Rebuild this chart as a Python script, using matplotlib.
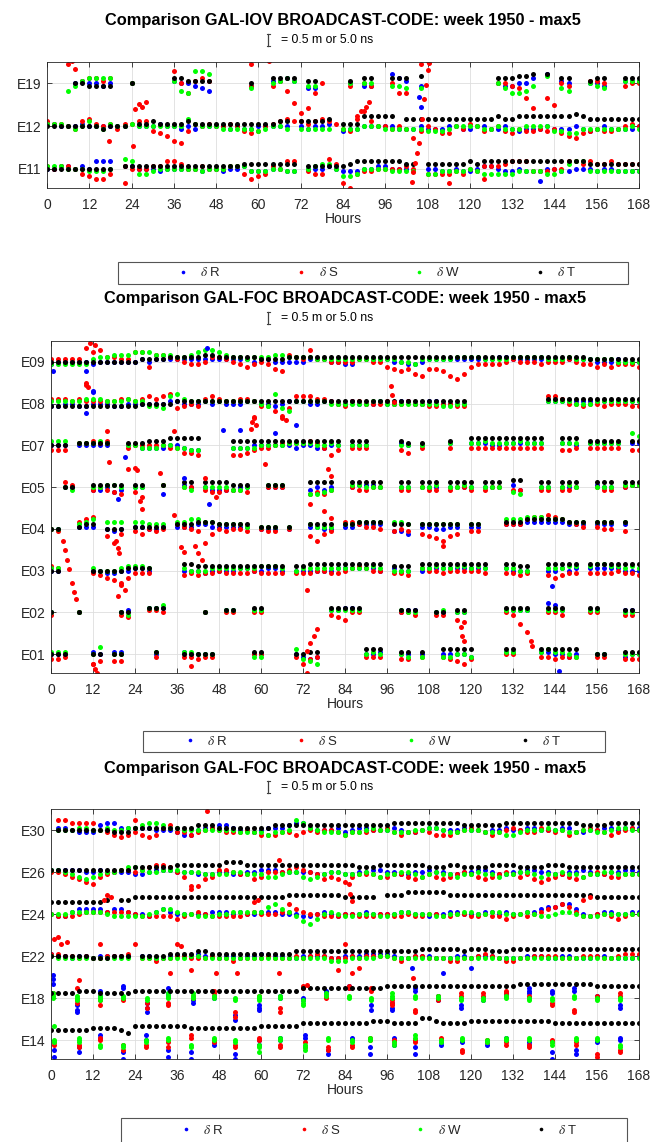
import numpy as np
import matplotlib.pyplot as plt
from matplotlib.lines import Line2D
from matplotlib.patches import Rectangle

plt.rcParams['font.family'] = ['Liberation Sans', 'DejaVu Sans']
plt.rcParams['mathtext.fontset'] = 'stix'

_ = np.nan
hours = np.arange(0, 169, 2)   # one sample every 2 h
DM_PER_ROW = 17.5              # values below are in dm (0.1 m), rows are 1.75 m apart

# ---------------- GAL-IOV ----------------
E19_T = [_, _, _, _, 0, 0, -1, -1, -1, -1, _, _,
         0, _, _, _, _, _, 2, 2, 1, 1, 1, 1,
         _, _, _, _, _, 0, _, _, 2, 2, 2, 2,
         _, 1, 1, _, _, _, _, 1, _, 2, 2, _,
         _, 2, 2, 2, _, 3, _, _, _, _, _, _,
         _, _, _, _, 2, 2, 2, 3, 3, 4, _, 4,
         _, 2, 2, _, _, 1, 2, 2, _, _, 2, 2,
         2]
E19_R = [_, _, _, _, 0, 1, 0, 0, -1, 0, _, _,
         0, _, _, _, _, _, 1, 0, 0, -1, -2, -3,
         _, _, _, _, _, -1, _, _, 1, 1, 2, 1,
         _, -2, -2, _, _, _, _, 0, _, -1, -1, _,
         _, 4, 2, 1, _, -1, _, _, _, _, _, _,
         _, _, _, _, 0, -1, -1, 0, 0, 2, _, 4,
         _, 1, 0, _, _, 0, 0, -1, _, _, 1, 1,
         1]
E19_S = [_, _, _, 8, 6, 1, 2, 2, 1, 2, _, _,
         0, _, _, _, _, _, 5, 0, -4, 1, 2, 1,
         _, _, _, _, _, -1, _, _, -1, 1, -3, -8,
         -12, -10, -4, 0, _, _, _, -1, _, 0, -1, _,
         _, 0, -4, -4, _, 8, 9, _, _, _, _, _,
         _, _, _, _, 0, 0, -1, -2, -6, -10, _, -6,
         -9, 0, -1, _, _, 1, 1, 0, _, _, -1, 0,
         0]
E19_W = [_, _, _, -3, -1, 1, 2, 2, 2, 2, _, _,
         0, _, _, _, _, _, 1, -3, -4, 5, 5, 4,
         _, _, _, _, _, -2, _, _, 0, 1, 2, 1,
         _, -1, -1, _, _, _, _, 0, _, 0, 0, _,
         _, -1, -1, -2, _, -2, _, _, _, _, _, _,
         _, _, _, _, 0, -2, -4, -4, -3, -1, _, 3,
         _, -2, -3, _, _, 0, -1, -2, _, _, 1, 1,
         1]

E12_T = [0, 0, 0, 0, 0, 0, 0, 0, -1, 0, 0, 0,
         _, 1, 1, 2, 1, 1, 1, 1, 2, 1, 1, 1,
         1, 1, 1, 1, 1, 1, 1, 1, 1, 2, 2, _,
         2, 2, 2, 2, 3, _, 1, 1, 1, 4, 4, 4,
         4, 4, _, 3, 3, 3, 3, 3, 3, 3, 3, 3,
         3, 3, 3, 3, 4, 3, 3, 4, 4, 4, 4, 4,
         4, 4, 4, 5, 4, 3, 3, 3, 3, 3, 3, 3,
         3]
E12_R = [1, 1, 0, 0, 0, 1, 0, 0, 0, 0, 0, 0,
         _, 0, 0, 0, 1, 0, 0, -1, 0, -1, 0, 0,
         0, 0, -1, 0, -1, -1, 0, 0, 0, 0, 0, _,
         0, -1, 0, 0, 1, _, -2, -1, -1, 0, 0, 0,
         0, 0, -1, -1, -1, 0, -1, -1, -1, 0, 0, -1,
         -1, 0, 0, -1, -1, 0, -1, -2, -1, -1, -1, 0,
         -1, -1, -1, 0, -1, -2, -1, 0, -1, -1, -1, -1,
         0]
E12_S = [2, 1, 1, 0, -1, 2, 3, 1, 0, 1, -1, 1,
         1, 2, 2, -2, -3, -4, -6, -7, -2, 1, 0, 1,
         0, 0, 1, 0, -2, -3, -2, 0, 1, 2, 3, 2,
         2, 1, 2, 3, 2, 1, -1, -2, 3, 6, 2, 0,
         0, -1, 0, -1, -5, -2, 0, -1, -3, -3, 0, -1,
         1, 0, -2, -1, 0, -2, -3, -1, -2, -2, -1, -2,
         -1, -3, -4, -5, -3, -2, -1, -2, -2, -1, 0, 1,
         0]
E12_W = [1, 1, 1, 0, -1, 0, 2, 0, -1, 1, 0, 0,
         1, 0, 0, 0, 0, 0, 0, 0, 3, 1, 0, 0,
         0, -1, -1, -1, -1, -1, -2, -1, 0, 0, -1, _,
         -1, -1, -1, -1, -1, _, -1, -1, -1, 0, 0, 0,
         -1, -1, -1, -1, -1, -1, -2, -2, -2, -1, 0, 0,
         0, 0, -1, -1, 0, -1, -1, -1, 0, 0, 0, 0,
         -2, -2, -3, -3, -1, -1, -1, -1, -1, -1, -1, 0,
         -1]

E11_T = [0, 0, 0, 0, 0, 0, 0, 0, 0, 0, _, 1,
         1, 1, 1, 1, 1, 1, 1, 1, 1, 1, 1, 1,
         1, 1, 1, 1, 2, 2, 2, 2, 2, 2, 2, 2,
         _, 1, 1, 1, 1, 1, 1, 2, 3, 3, 3, 3,
         3, 3, 3, 2, 2, _, 2, 2, 2, 2, 2, 2,
         3, 2, 3, 3, 3, 3, 3, 3, 3, 3, 3, 3,
         3, 3, 3, 3, 3, 2, 2, 2, 2, 2, 2, 2,
         2]
E11_R = [0, 0, 1, 1, 0, 1, 0, 3, 3, 3, _, 1,
         1, 0, 0, 0, -1, 0, 0, 0, 0, 0, -1, 0,
         0, -1, 0, 0, 1, -1, -1, -1, 0, 0, -1, -1,
         _, 0, 0, 0, 1, 0, -1, -1, -1, 0, 0, 1,
         1, 0, 0, 0, -1, _, 0, 0, -1, -1, 0, -1,
         -1, 0, 1, 1, 0, -1, -1, 0, -1, -1, -1, 0,
         0, -1, -1, 0, 0, 0, -1, 0, 0, -1, -1, -1,
         -1]
E11_S = [1, 0, 1, 1, 0, -2, -3, -4, -4, -2, _, 1,
         0, 0, 0, 1, 1, 3, 3, 2, 0, 0, 1, 0,
         0, 0, 1, 1, -2, -4, -3, -2, 1, 0, 3, 3,
         _, -1, -2, -2, 4, 2, -6, -8, -2, -1, -1, 0,
         0, 0, 0, 1, 0, _, -2, -2, -2, -2, -1, -2,
         0, -1, 1, 1, 1, 2, 3, 3, 3, -1, -1, -1,
         0, 0, 3, 3, 2, 3, 2, 2, 3, 2, 2, 2,
         2]
E11_W = [1, 1, 1, 0, 0, 0, -1, -1, -1, 0, _, 4,
         3, -2, -2, -1, 0, 0, 0, 0, 0, 0, -1, 0,
         0, 0, 1, 1, 1, -1, -1, -1, 0, 0, -1, -1,
         _, 0, 1, 2, 2, 0, -3, -3, -2, 0, 0, 0,
         0, -1, -1, -1, -1, _, -2, -2, -1, -1, -1, -1,
         0, -1, -2, -2, -2, -2, -2, -1, -1, -1, -1, -2,
         -2, -1, 2, 3, 3, -1, -1, -1, -1, -1, -1, -1,
         -1]

# isolated points: (satellite, component, hour, dm)
iov_extra = [("E19", "S", 7, 9), ("E19", "S", 58, 8), ("E19", "S", 63, 9),
             ("E12", "S", 25, 7), ("E12", "S", 26, 9), ("E12", "S", 27, 8), ("E12", "S", 28, 10),
             ("E12", "S", 24.5, -8), ("E12", "S", 17.5, -6),
             ("E12", "S", 88, 4), ("E12", "S", 89, 6), ("E12", "S", 90.5, 8), ("E12", "S", 91.5, 10),
             ("E12", "S", 103.5, -23), ("E12", "S", 104, -19), ("E12", "S", 104.5, -15),
             ("E12", "S", 105, -11), ("E12", "S", 105.5, -7), ("E12", "S", 106.5, 3),
             ("E12", "S", 107, 11), ("E12", "S", 107.5, 17), ("E12", "S", 108, 23), ("E12", "S", 108.3, 26),
             ("E12", "R", 106, 8), ("E12", "R", 105.5, 12),
             ("E11", "S", 22, -6), ("E11", "S", 114, -6), ("E11", "S", 124, -4), ("E11", "R", 140, -5)]

# ---------------- GAL-FOC (1) ----------------
E09_T = [0, 0, 0, 0, 0, 0, 0, 0, 0, 0, 0, 0,
         0, 1, 1, 1, 1, 2, 2, 2, 2, 2, 3, 3,
         2, 2, 2, 2, 2, 2, 1, 1, 1, 1, 2, 2,
         2, 2, 2, 2, 2, 2, 2, 2, 2, 2, 2, 2,
         2, 2, 2, 2, 2, 2, 2, 2, 2, 2, 2, 2,
         2, 2, 2, 2, 2, 2, 2, 2, 2, 2, 2, 2,
         2, 2, 2, 2, 2, 1, 1, 1, 1, 1, 1, 1,
         1]
E09_R = [-1, 0, 0, 0, 0, 0, -1, 0, 0, 0, 0, 0,
         0, 1, 0, 1, 1, 1, 1, 1, 1, 1, 1, 1,
         1, 1, 1, 1, 1, 0, 1, 1, 0, 0, 0, 0,
         0, 1, 1, 1, 0, 0, -1, -1, 1, 1, 1, 1,
         1, 0, 0, -1, -1, 0, 1, 1, 1, 1, 1, 1,
         1, 1, 1, 1, 2, 2, 1, 1, 1, 1, 1, 1,
         1, 1, 1, 1, 1, 1, 0, 0, 0, 1, 0, 0,
         0]
E09_S = [1, 1, 1, 1, 1, 6, 4, 5, 2, 2, 1, 1,
         4, 4, -2, 3, 3, 2, 1, 0, -1, -1, 0, 2,
         2, 1, 0, -1, -2, -1, 0, -1, -3, -4, 3, 2,
         1, 5, 1, 1, 0, 0, 0, 0, 1, 1, 0, 0,
         -2, -3, -4, -3, -5, -6, -3, -3, -4, -6, -7, -5,
         -2, -1, -1, -1, -1, 0, 1, 0, 0, 0, -1, 0,
         0, 0, 1, 0, -1, -1, -2, -1, -2, -1, -1, -1,
         -2]
E09_W = [-1, -1, -1, -1, -1, -1, 1, 2, 2, 3, 3, 3,
         4, 4, 4, 3, 3, 3, 2, 2, 3, 4, 5, 5,
         4, 3, 2, 2, 1, 2, 2, 2, 3, 3, 2, 2,
         2, 2, 1, 1, 1, 1, 1, 1, 1, 1, 1, 1,
         1, 1, 0, 0, -1, 1, 1, 1, 1, 1, 2, 2,
         2, 2, 1, 1, 1, 1, 2, 2, 2, 2, 2, 1,
         1, 1, 2, 1, 1, 1, 1, 1, 1, 0, 0, 0,
         0]

E08_T = [-1, -1, -1, -1, -1, -1, -1, -1, -1, -1, -1, -1,
         -1, 0, 0, 0, 0, 0, 1, 1, 1, 1, 1, 1,
         1, 1, 1, 1, 1, 1, 1, 1, 1, 1, 1, 1,
         1, 1, 1, 1, 1, 1, 1, 1, 1, 1, 1, 1,
         1, 1, 1, 1, 1, 1, 1, 1, 1, 1, 1, 1,
         _, _, _, _, _, _, _, _, _, _, _, 2,
         2, 2, 2, 2, 2, 2, 2, 2, 2, 2, 2, 2,
         2]
E08_R = [-1, -1, 0, 0, -1, -1, 0, 0, 0, -1, -1, 0,
         0, 0, 0, 0, 0, 1, 1, 0, 0, 0, 1, 0,
         1, 0, 0, 0, 1, 1, 0, 0, -1, 0, 1, 1,
         1, 0, 0, 1, 1, 0, 0, 1, 0, 0, 0, 1,
         0, 0, 1, 1, 0, 0, 1, 1, 0, 0, 0, 0,
         _, _, _, _, _, _, _, _, _, _, _, 1,
         1, 1, 1, 1, 1, 1, 1, 1, 1, 1, 1, 1,
         1]
E08_S = [2, 2, 2, 1, 2, 1, 1, 1, 1, 1, 2, 2,
         1, 2, 3, 2, 3, 4, -2, -1, 0, -1, 2, 3,
         2, 1, 1, 2, 2, 1, -1, -1, -3, -5, -2, 3,
         3, 3, 2, 2, 1, 0, -1, 1, 1, 0, 0, 0,
         1, 0, 0, 1, 0, 0, -1, -1, 0, 0, -1, -1,
         _, _, _, _, _, _, _, _, _, _, _, 3,
         3, 2, 0, 0, -1, 0, 0, -1, 0, 0, 0, -1,
         -1]
E08_W = [1, 1, 1, 1, 1, 2, 2, 2, 1, 1, 1, 2,
         1, 1, -1, -1, -2, 3, 4, 2, 1, 1, 1, 1,
         1, 1, 1, 1, 1, 1, 0, -1, 4, -2, -3, 1,
         1, 1, 1, 1, 0, 0, 0, 0, 0, 0, 1, 1,
         0, 0, 0, 0, 0, 0, 0, 0, -1, -1, 0, 0,
         _, _, _, _, _, _, _, _, _, _, _, 1,
         1, 1, 1, 0, 0, 0, 1, 1, 1, 1, 1, 1,
         1]

E07_T = [0, 0, 0, _, 1, 1, 1, 1, 1, _, _, 1,
         1, 1, 2, 2, 2, 3, 3, 3, 3, 3, _, _,
         _, _, 2, 2, 2, 2, 2, 2, 2, 2, 2, 2,
         2, 2, 2, 2, 2, 2, _, 2, 2, 2, _, _,
         _, _, 2, 1, _, 1, _, _, _, 2, _, _,
         3, 3, 3, 3, 3, 3, 3, 3, 3, 3, 3, _,
         _, 3, 3, 3, _, 2, 2, 2, 2, 2, _, 2,
         2]
E07_R = [0, 0, 0, _, 0, 0, 0, 0, 0, _, _, 0,
         0, -1, -1, -1, -1, 0, 0, -1, -2, -2, _, _,
         _, _, -1, -1, -1, 0, 0, 0, 0, 0, 0, -1,
         0, 0, -1, -1, 0, 0, _, 0, 0, 0, _, _,
         _, _, 1, 0, _, 0, _, _, _, 1, _, _,
         1, 1, 1, 0, 0, 1, 1, 1, 1, 1, 1, _,
         _, 1, 1, 0, _, 1, 1, 1, 1, 1, _, 1,
         1]
E07_S = [-2, -2, -2, _, 1, 1, 2, 1, 2, _, _, -1,
         0, 0, 0, 0, 0, -1, -1, -3, -3, -4, _, _,
         _, _, -4, -4, -3, -2, -1, -1, 0, 1, 1, 1,
         1, 2, 1, -1, -4, -2, _, -1, -1, -1, _, _,
         _, _, -2, -3, _, -1, _, _, _, -1, _, _,
         -1, -1, -1, -1, -1, -1, -1, -1, -1, -1, -1, _,
         _, -2, -2, -1, _, -1, -1, -1, -1, -1, _, -2,
         -2]
E07_W = [2, 2, 2, _, 1, 1, 1, 2, 1, _, _, 0,
         0, -1, -1, -1, 0, 0, -1, -1, -2, -2, _, _,
         _, _, -1, -1, -1, -1, 0, 0, 0, 0, 1, 1,
         1, 1, 0, 0, 1, 0, _, 0, 0, 0, _, _,
         _, _, 0, 0, _, 0, _, _, _, 1, _, _,
         1, 1, 2, 1, 1, 1, 1, 2, 1, 1, 1, _,
         _, 1, 1, 1, _, 1, 1, 1, 1, 1, _, 5,
         4]

E05_T = [_, _, 0, 0, _, _, 1, 1, 1, 1, 1, _,
         1, 1, _, _, 1, _, _, 2, 2, _, 2, 2,
         2, 2, 1, 1, 1, _, _, 1, 1, 1, _, _,
         _, 2, 2, 2, 2, _, _, 2, 2, 2, 2, 2,
         _, _, 2, 2, _, 2, 2, 2, _, 2, 2, 2,
         2, _, 2, 2, 2, _, 3, 3, _, _, 2, 2,
         _, 2, 2, 2, _, _, 2, 2, 2, _, 2, 2,
         2]
E05_R = [_, _, 0, 0, _, _, -1, -1, 0, -2, -1, _,
         0, 0, _, _, -3, _, _, 1, 0, _, 0, -1,
         -1, -1, -1, 0, 0, _, _, 0, 0, 0, _, _,
         _, -1, 0, -1, 0, _, _, 0, 1, 1, 1, 0,
         _, _, 0, 0, _, 0, 0, 0, _, 0, 0, 0,
         0, _, 0, 0, 0, _, 1, -1, _, _, 0, 0,
         _, 0, 0, 0, _, _, 1, 0, 0, _, 0, 1,
         1]
E05_S = [_, _, 2, 1, _, _, -1, 0, -1, -2, -3, _,
         -2, -4, _, _, 1, _, _, 0, 0, _, -1, -2,
         -2, -1, -1, -1, -2, _, _, 0, 0, 0, _, _,
         _, -3, -2, -3, -1, _, _, 0, -1, -1, 0, 0,
         _, _, -1, -1, _, 0, -1, -1, _, -1, 0, 0,
         -1, _, -1, 0, 0, _, -1, -1, _, _, -1, -1,
         _, -1, -1, 0, _, _, 0, -1, -1, _, 0, 1,
         1]
E05_W = [_, _, 0, -1, _, _, 0, 0, 1, 1, 0, _,
         0, 0, _, _, 1, _, _, 0, -1, _, 0, 0,
         0, 0, -1, -1, 0, _, _, 1, 1, 1, _, _,
         _, -3, -3, -2, -1, _, _, 1, 1, 0, 0, 0,
         _, _, 0, 0, _, 0, 0, 1, _, 0, 0, 1,
         0, _, 0, 0, 0, _, -2, -3, _, _, 0, 0,
         _, 0, 1, 0, _, _, 0, 0, 0, _, 1, 1,
         1]

E04_T = [0, 0, _, _, 1, 2, 2, _, 0, 0, 0, _,
         1, 1, 1, 1, 1, _, 2, 2, 2, 3, 3, 3,
         2, 2, 2, 2, 2, _, 1, 1, 1, _, 1, _,
         _, 2, 2, 2, 2, _, 2, 2, 3, 3, 3, 3,
         _, 2, 2, 2, _, 2, 2, 2, 2, 2, 2, _,
         2, 2, _, _, _, 3, 3, 3, 4, 4, 4, 4,
         4, 4, 3, 3, 3, _, 3, 3, 3, _, 3, _,
         _]
E04_R = [0, 0, _, _, 1, 1, 1, _, 0, -1, 0, _,
         1, 1, 0, 0, 1, _, 1, 1, 1, 2, 2, 1,
         1, 1, 1, 1, 1, _, 0, 0, 0, _, 0, _,
         _, 1, 1, 0, 0, _, 1, 1, 2, 2, 2, 2,
         _, -1, -1, -2, _, 1, 1, 0, 0, 1, 1, _,
         1, 1, _, _, _, 2, 2, 2, 3, 3, 3, 3,
         3, 3, 2, 2, 2, _, 2, 2, 2, _, 2, _,
         _]
E04_S = [0, -1, _, _, 3, 4, 5, _, -3, -6, -2, _,
         -1, -2, 0, -1, 0, _, 2, 1, 0, -1, -6, -2,
         0, -1, 0, 0, -1, _, 0, -1, -1, _, 0, _,
         _, -3, -5, -2, -1, _, 3, 3, 2, 1, 1, 0,
         _, -1, 0, -1, _, -2, -3, -4, -5, -3, -2, _,
         -1, -1, _, _, _, 2, 2, 2, 4, 5, 5, 6,
         5, 4, 3, 2, 1, _, 1, 0, 0, _, -1, _,
         _]
E04_W = [0, 0, _, _, 2, 3, 4, _, 3, 3, 3, _,
         3, 3, 2, 2, 2, _, 3, 3, 4, 4, 3, 3,
         2, 2, 2, 2, 1, _, 1, 1, 1, _, 1, _,
         _, 2, 1, 1, 1, _, 2, 2, 3, 3, 3, 3,
         _, 3, 3, 2, _, 2, 2, 2, 2, 2, 2, _,
         2, 2, _, _, _, 4, 4, 4, 5, 5, 5, 4,
         4, 4, 3, 3, 3, _, 3, 3, 3, _, 3, _,
         _]

E03_T = [0, 0, _, _, _, _, 0, 0, 0, 0, 0, 1,
         1, 1, 1, _, _, _, _, 3, 3, 2, 2, 2,
         2, 2, 2, 2, 2, 2, 2, 2, 2, 2, _, 2,
         2, 3, 3, 3, 3, 3, 3, 3, 3, 3, 3, 3,
         _, 2, 2, 2, _, 3, 3, 3, 3, 3, 3, 3,
         3, 3, 3, _, _, 3, 3, 2, 2, _, _, 3,
         3, 3, 3, 3, _, 3, 3, 3, 3, 3, 3, 3,
         3]
E03_R = [0, 0, _, _, _, _, 0, 0, -1, -1, 0, 0,
         1, 1, 0, _, _, _, _, 0, 0, 0, -1, 0,
         0, 0, 0, 1, 1, 0, 0, 1, 1, 0, _, 0,
         0, 0, 0, 0, 0, 1, 1, 1, 1, 1, 1, 0,
         _, 1, 0, 0, _, 0, 1, 1, 1, 1, 1, 1,
         1, 1, 1, _, _, 1, 0, 0, 0, _, _, 0,
         0, 1, 0, 1, _, 1, 1, 1, 1, 1, 0, 0,
         0]
E03_S = [2, 1, _, _, _, _, -1, -2, -3, -4, -6, -3,
         -1, -1, -1, _, _, _, _, -2, -1, -2, -1, -1,
         0, -1, -1, -1, -1, 0, -1, -1, -1, -1, _, -1,
         -1, -1, 0, 0, -1, -1, 0, 1, 2, 1, 0, 0,
         _, -1, -1, -2, _, 1, 0, 0, -1, 0, 0, 0,
         0, 0, -1, _, _, -1, -1, -2, -1, _, _, -2,
         -3, -2, -1, -1, _, -1, -1, -1, -1, 0, -1, -1,
         -2]
E03_W = [1, 1, _, _, _, _, 1, 0, 0, 0, 1, 2,
         2, 2, 1, _, _, _, _, 1, 0, 0, 0, 1,
         1, 1, 1, 1, 1, 1, 2, 2, 2, 1, _, 0,
         1, 1, 1, 1, 1, 1, 1, 1, 1, 1, 2, 1,
         _, 0, 0, 0, _, 1, 1, 2, 1, 1, 2, 2,
         1, 2, 1, _, _, 1, 1, 0, 0, _, _, 1,
         1, 1, 2, 2, _, 2, 3, 3, 2, 2, 1, 2,
         1]

E02_T = [0, _, _, _, 0, _, _, _, _, _, 0, 0,
         _, _, 2, 2, 2, _, _, _, _, _, 0, _,
         _, 1, 1, _, _, 2, 2, _, _, _, _, _,
         _, _, _, _, 2, 2, 2, 2, 2, _, _, _,
         _, _, 1, 1, 1, _, _, 0, 0, _, 1, 1,
         _, _, _, _, _, 2, 2, 2, 2, _, _, 2,
         2, 2, _, _, _, 2, 2, _, _, _, 1, 1,
         _]
E02_R = [0, _, _, _, 0, _, _, _, _, _, 0, 1,
         _, _, 2, 2, 2, _, _, _, _, _, 0, _,
         _, 1, 1, _, _, 1, 1, _, _, _, _, _,
         _, _, _, _, 1, 1, 2, 2, 1, _, _, _,
         _, _, 0, 1, 1, _, _, 0, 0, _, 0, 0,
         _, _, _, _, _, 1, 1, 1, 1, _, _, 4,
         3, 1, _, _, _, 1, 1, _, _, _, 1, 1,
         _]
E02_S = [-1, _, _, _, 0, _, _, _, _, _, -1, -2,
         _, _, 1, 1, 0, _, _, _, _, _, 0, _,
         _, 0, 0, _, _, 0, 0, _, _, _, _, _,
         _, _, _, _, -1, -2, -3, 0, 0, _, _, _,
         _, _, 0, 0, -1, _, _, -1, -1, _, -3, -4,
         _, _, _, _, _, 0, -1, -5, -8, _, _, 0,
         0, -1, _, _, _, 0, 0, _, _, _, -1, -1,
         _]
E02_W = [0, _, _, _, 0, _, _, _, _, _, 0, -1,
         _, _, 2, 2, 3, _, _, _, _, _, 0, _,
         _, 1, 1, _, _, 1, 1, _, _, _, _, _,
         _, _, _, _, 1, 1, 1, 1, 1, _, _, _,
         _, _, 1, 0, 0, _, _, 0, 1, _, 0, 0,
         _, _, _, _, _, 1, 1, 1, 1, _, _, 1,
         1, 1, _, _, _, 1, 1, _, _, _, 0, 0,
         _]

E01_T = [0, 0, 0, _, _, _, 0, 0, _, 0, 0, _,
         _, _, _, 1, _, _, _, 0, 0, 0, 0, 0,
         _, _, _, _, _, 1, 1, _, _, _, _, 0,
         0, 1, 1, _, _, _, _, _, _, 2, 2, 2,
         _, _, 1, 1, _, 1, _, _, 2, 2, 2, 2,
         2, _, _, _, _, 2, 2, _, _, _, 2, 2,
         2, 2, 2, 2, _, _, 0, 0, _, _, 1, 1,
         1]
E01_R = [0, 0, 0, _, _, _, 1, 0, _, 1, 1, _,
         _, _, _, 0, _, _, _, 1, 0, 0, 0, 0,
         _, _, _, _, _, 0, 0, _, _, _, _, 0,
         -1, -2, -1, _, _, _, _, _, _, 0, 0, 1,
         _, _, 0, 0, _, 0, _, _, 0, 0, 0, 0,
         -1, _, _, _, _, 1, 1, _, _, _, 1, 1,
         0, 0, -1, 0, _, _, 0, 0, _, _, -1, 0,
         0]
E01_S = [-2, -2, -1, _, _, _, -4, -3, _, -3, -3, _,
         _, _, _, -1, _, _, _, -1, -1, -2, -1, -1,
         _, _, _, _, _, 0, 0, _, _, _, _, -1,
         -4, -2, -1, _, _, _, _, _, _, -1, -1, -1,
         _, _, -2, -2, _, -1, _, _, -1, -2, -3, -4,
         -2, _, _, _, _, 0, 0, _, _, _, -1, -1,
         -2, -1, -1, -1, _, _, -1, -1, _, _, -2, -2,
         -2]
E01_W = [1, 1, 1, _, _, _, 0, 3, _, 0, 0, _,
         _, _, _, 1, _, _, _, 1, 1, 0, 0, 0,
         _, _, _, _, _, -1, -1, _, _, _, _, 2,
         -2, -3, -4, _, _, _, _, _, _, 0, 1, 0,
         _, _, 0, -1, _, -1, _, _, -1, -1, 0, 0,
         -1, _, _, _, _, 1, 1, _, _, _, 1, 2,
         1, 1, 0, -1, _, _, 0, 0, _, _, 0, 0,
         0]

foc1_extra = [("E09", "R", 0.5, -4), ("E09", "R", 10, -4), ("E09", "R", 12, -12), ("E09", "R", 44.5, 6),
              ("E09", "S", 10, -9), ("E09", "S", 11, 8), ("E09", "S", 12.5, 7),
              ("E09", "S", 97, -10), ("E09", "S", 97.5, -14), ("E09", "S", 98, -17),
              ("E08", "S", 10, 8), ("E08", "S", 10.5, 7), ("E08", "R", 10, -4), ("E08", "R", 12, 5),
              ("E08", "R", 49, -11), ("E08", "R", 54, -11), ("E08", "R", 70, -9),
              ("E08", "S", 66, -6), ("E08", "S", 67, -7), ("E08", "S", 58, -6), ("E08", "S", 58.5, -9),
              ("E07", "S", 16, 6), ("E07", "S", 16.5, -7), ("E07", "R", 21, -5), ("E07", "S", 35, 6),
              ("E07", "S", 57, 7), ("E07", "S", 57.5, 10), ("E07", "S", 58, 12), ("E07", "S", 22, -10),
              ("E07", "S", 61, -8), ("E07", "S", 79, -10), ("E07", "S", 80, -13), ("E07", "R", 64, 5),
              ("E05", "S", 24, 8), ("E05", "S", 24.5, 7), ("E05", "S", 25.5, -6), ("E05", "S", 26, -9),
              ("E05", "S", 31, 6), ("E05", "S", 44, 4), ("E05", "S", 47, -4), ("E05", "S", 74, -7),
              ("E05", "R", 19, -5), ("E05", "R", 38, 4), ("E05", "R", 45, -7),
              ("E05", "S", 78, -10), ("E05", "S", 80, -13),
              ("E04", "S", 3.5, -5), ("E04", "S", 4, -9), ("E04", "S", 4.5, -13), ("E04", "S", 5, -17),
              ("E04", "S", 18.5, -5), ("E04", "S", 19, -8), ("E04", "S", 19.5, -10),
              ("E04", "S", 41, -7), ("E04", "S", 42, -10), ("E04", "S", 43, -13),
              ("E04", "S", 112, -7), ("E04", "S", 35, 6),
              ("E03", "S", 6, -5), ("E03", "S", 6.5, -9), ("E03", "S", 7, -12),
              ("E03", "S", 20, -5), ("E03", "S", 21, -8), ("E03", "S", 37, 10), ("E03", "S", 38, 8),
              ("E03", "S", 73, -8),
              ("E02", "S", 19, 7), ("E02", "S", 73, -16), ("E02", "S", 74, -13), ("E02", "S", 75, -10),
              ("E02", "S", 76, -7), ("E02", "S", 117, -6), ("E02", "S", 117.5, -10), ("E02", "S", 118, -12),
              ("E02", "S", 137, -12), ("E02", "S", 137.5, -14), ("E02", "R", 143, 11),
              ("E01", "S", 12, -4), ("E01", "S", 12.5, -6), ("E01", "S", 13, -8), ("E01", "S", 40, -5),
              ("E01", "S", 73, -8), ("E01", "S", 74, -11), ("E01", "R", 145, -7)]

# ---------------- GAL-FOC (2) ----------------
E30_T = [_, 0, 0, 0, 0, 0, 0, 0, 0, -1, -1, -1,
         1, 1, 1, 1, 1, 1, 1, 1, 1, 2, 2, 2,
         1, 1, 1, 1, 1, 1, 1, 1, 2, 2, 2, 2,
         2, 2, 2, 2, 2, 2, 2, 2, 2, 2, 2, 2,
         2, 3, 3, 3, 3, 3, 3, 3, 3, 3, 3, 2,
         2, 2, 2, 2, 2, 3, 3, 3, 3, 3, 3, 3,
         3, 3, 3, 3, 2, 2, 2, 2, 3, 3, 3, 3,
         3]
E30_R = [_, 1, 1, 0, -1, -1, -1, 2, 3, 3, 1, 1,
         1, 1, 1, 0, 0, 0, -1, -2, -2, 0, 1, 1,
         2, 2, 1, 0, 0, -1, 0, 1, 1, 1, 2, 3,
         3, 1, 0, 0, 0, 1, -1, 0, 1, 1, 0, 0,
         0, 1, 0, -1, -1, 0, 1, 1, 0, 0, 0, 1,
         0, 0, -1, 0, 0, 1, 0, 0, 1, 1, 0, 0,
         0, 1, 1, -1, -1, 0, 0, 1, 1, 0, 1, 1,
         1]
E30_S = [_, 4, 4, 3, 3, 3, 3, 0, -1, -2, -3, -2,
         -1, -2, -3, -2, 1, 2, -1, -1, -2, -1, 0, 1,
         0, -1, -1, -1, 0, -1, -2, -2, -2, -1, -1, -2,
         -1, 0, -1, 0, 0, -1, -2, -1, -1, -1, 0, 0,
         1, -1, -2, -1, -1, 0, -1, -2, -2, -2, -1, 0,
         1, 0, -1, -2, -1, 0, 1, 0, -1, -1, 1, 0,
         -1, 0, -2, -1, 0, 1, 0, -1, -2, -1, 0, 1,
         0]
E30_W = [_, 0, 0, 0, 1, 1, 0, 0, 1, 0, 0, 1,
         1, 2, 3, 3, 2, 1, 1, 0, 0, 0, 0, 0,
         0, 0, 0, -1, -1, -1, -1, -2, -1, -1, 0, 4,
         3, 1, 0, -1, -1, -1, -2, -1, -1, 0, 1, 0,
         0, -1, -1, -1, 0, 0, 1, 1, 0, -1, -1, 0,
         0, 0, -1, -1, -1, -2, -2, -1, 0, 0, 0, 1,
         0, 0, -1, -1, 0, 0, -1, -1, 0, 1, 1, 0,
         0]

E26_T = [1, 1, 1, 1, 1, 1, 1, 1, 1, 1, 1, 1,
         2, 2, 2, 2, 2, 2, 3, 3, 3, 3, 3, 3,
         3, 4, 4, 4, 3, 3, 3, 3, 3, 3, 3, 3,
         3, 3, 3, 3, 3, 3, 3, 3, 2, 2, 2, 3,
         3, 3, 3, 3, 3, 3, 2, 2, 2, 3, 3, 2,
         2, 2, 2, 3, 3, 3, 3, 2, 2, 2, 2, 3,
         3, 3, 2, 2, 2, 2, 2, 2, 2, 2, 2, 2,
         2]
E26_R = [1, 1, 1, 1, 1, 0, 0, 1, 0, 0, 0, 0,
         -1, -1, 0, 1, 1, 1, 0, 0, 0, -1, -1, -1,
         0, 0, -1, -1, 0, 0, 1, 1, 1, 0, 0, 0,
         0, 0, -1, -1, 0, 0, -1, -1, 0, 0, 1, 1,
         0, 0, -1, -1, 0, 0, 1, 0, 0, -1, -1, 0,
         0, 1, 1, 0, -1, -1, 0, 0, 1, 1, 0, 0,
         -1, -1, 0, 0, 1, 0, -1, -1, 0, 0, 1, 1,
         0]
E26_S = [0, 0, -1, -2, -3, -4, -5, -2, -1, 0, 1, 1,
         0, 1, 2, 3, 3, 2, 0, -2, -6, -6, -3, -2,
         1, 1, 0, -1, -1, -3, -2, 0, 0, 0, 1, 2,
         1, 0, -1, -3, -2, -3, -4, -2, -1, -1, -1, -2,
         -2, -1, -1, -2, -3, -2, -1, -2, -3, -2, -1, 0,
         -1, -2, -3, -2, -1, 0, -1, -2, -1, -3, -4, -3,
         -2, -1, -2, -3, -2, -1, 0, -1, -2, -2, -1, -1,
         -1]
E26_W = [1, 1, 0, -1, -2, -3, -2, -1, 0, 0, 1, 2,
         2, 1, 0, 0, 1, 1, 1, 0, 0, 0, -1, -1,
         -1, -1, 0, 0, -1, -1, -1, -2, -2, -1, 0, 0,
         -2, -3, -2, -1, 0, 0, -1, -1, -1, 0, -1, -2,
         -1, -1, 0, 0, -1, -2, -1, 0, -1, -1, -2, -1,
         -1, 0, -1, -1, -2, -1, -1, 0, 0, -1, -2, -1,
         -1, 0, -1, -1, -2, -1, -1, 0, 0, -1, -1, -1,
         -1]

E24_T = [5, 5, 5, 5, 5, 5, 5, 5, 6, _, 6, 6,
         7, 7, 7, 7, 7, 7, 7, 7, 7, 7, 7, 7,
         7, 7, 7, 7, 7, 7, 7, 7, 7, 7, 8, 8,
         8, 8, 8, 8, 8, 8, 7, 7, 7, 7, 7, _,
         8, 8, 8, 9, 9, 9, 9, 9, 9, 8, 8, 8,
         8, 8, 8, 8, 8, 8, 8, 8, 8, 8, 8, 8,
         8, 8, 8, 8, 8, 8, 7, 7, 7, 7, 7, 7,
         7]
E24_R = [0, -1, -1, 1, 2, 2, 2, 2, 1, 2, 2, 1,
         0, 0, -1, 1, 2, 1, 0, 0, 0, 0, 0, 1,
         1, 1, 0, 1, 0, 0, 1, 1, 1, 0, 0, 0,
         -1, -1, 0, 1, 0, -1, 0, 0, 0, 1, 0, 0,
         0, 0, 1, 1, 0, 0, -1, 0, 0, 1, 1, 0,
         0, 0, 1, 1, 0, 1, 0, 0, 1, 1, 2, 3,
         3, 4, 4, 2, 0, -1, 0, 1, 1, 0, 0, 1,
         1]
E24_S = [0, -1, -1, -1, 0, 1, 1, 1, 1, 1, 1, 1,
         0, -1, -1, -1, -1, -1, -2, -1, 0, 1, 0, -1,
         -1, -1, -1, -1, 0, 1, 0, 0, 0, 1, 1, 2,
         1, 0, 0, -1, -1, -1, 0, 0, -1, -1, -1, 0,
         0, -1, -1, 0, -1, -1, 0, 0, -1, -1, 0, 0,
         -1, -1, 0, -1, -1, -2, -1, 0, -1, 0, 1, 2,
         3, 4, 3, 1, -1, -1, 0, 0, -1, -2, -1, 0,
         0]
E24_W = [0, 0, 0, 1, 1, 1, 1, 1, 0, -1, -1, -1,
         -1, -1, 0, 1, 2, 2, 1, 0, 0, -1, -1, -1,
         0, 0, 1, 1, 1, 1, 1, 3, 4, 2, 1, -1,
         -3, -4, -2, 0, 1, 0, -1, -1, 0, 0, 0, -1,
         -1, 0, 1, 1, 0, 0, 0, -1, -1, 0, 0, 1,
         1, 0, 0, 1, 1, 0, 0, 0, 1, 0, -1, -1,
         0, 1, 1, 0, -1, -1, -1, 0, 0, 0, 0, 0,
         0]

E22_T = [0, 0, 0, 0, 0, 0, -1, -1, -1, 0, 0, 0,
         _, 0, 0, 0, 0, 1, 1, 1, 1, 2, 2, 1,
         1, 1, 1, 1, 1, 1, 1, 1, 1, 1, 1, 2,
         2, 2, 2, 2, 2, 2, 2, 2, 2, 2, 2, 2,
         2, 2, 2, 2, 2, 3, 3, 3, 3, 3, 3, 2,
         3, 3, 3, 2, 2, 2, 3, 3, 3, 3, 3, 3,
         3, 3, 3, 3, 3, 3, 3, 3, 3, 3, 3, 3,
         3]
E22_R = [1, 0, 0, -1, 0, 0, -1, 0, 0, 0, 0, 0,
         _, 0, 0, -1, -1, 0, 0, 0, 0, 1, 0, 0,
         -1, 0, 0, -1, 0, 0, 1, 0, 0, 0, -1, -1,
         0, 0, 0, 0, -1, -1, 0, 0, 0, 1, 1, 1,
         1, 0, -1, -1, 0, 0, 0, -1, -1, -1, 0, 0,
         -1, 0, 0, 0, -1, -1, -1, -1, 0, 0, 0, -1,
         -1, 0, 0, -1, -1, -1, 0, 0, -1, -1, -1, -1,
         0]
E22_S = [1, 1, 0, 0, -1, 0, -1, -1, 0, 0, 0, 1,
         _, -1, -1, -2, -1, -1, 0, 0, -1, -1, -1, 0,
         -1, -1, -2, -1, -1, -1, -1, 0, -1, -1, -1, 0,
         -1, 0, 1, 0, -1, -1, -1, 0, -1, 0, 0, 0,
         0, -1, -2, -1, 0, 0, -1, -1, -1, -2, -2, -1,
         -1, 0, 1, 0, -1, -2, -2, -1, -1, 0, 0, 0,
         0, -1, -1, -1, 0, 0, 0, -1, -1, 0, 1, 1,
         1]
E22_W = [0, -1, -1, -1, -1, -1, -1, -1, -1, -1, -1, -1,
         _, -1, -1, -1, -1, -1, -1, -1, 0, 0, -1, -1,
         -1, -1, -1, -1, -1, -1, -1, -1, -1, -1, -1, -1,
         -1, -1, -1, -1, -2, -2, -2, -1, -1, -1, -1, 0,
         0, -1, -1, -1, -1, -1, -1, -1, -1, -1, -1, -1,
         -1, -1, -1, -1, -1, -1, -1, -1, -1, -1, -1, -1,
         -1, -1, -1, -1, -1, -1, -1, -1, -1, -1, -1, -1,
         -1]

E18_T = [2, 2, 2, 2, 3, 3, 3, 2, 2, 2, 2, 2,
         3, 3, 3, 3, 3, 3, 3, 3, 3, 3, 3, 3,
         3, 3, 3, 3, 3, 3, 3, 3, 3, 3, 3, 3,
         4, 4, 4, 4, 4, 4, 4, 4, 4, 4, 4, 4,
         5, 5, 5, 5, 5, 5, 5, 5, 5, 5, 5, 5,
         5, 5, 5, 5, 5, 5, 5, 6, 6, 6, 6, 6,
         6, 6, 6, 6, 6, 6, 5, 5, 5, 5, 5, 5,
         5]
E14_T = [4, 4, 4, 4, 4, 4, 5, 5, 5, 5, 4, 3,
         6, 6, 6, 6, 6, 6, 6, 6, 5, 5, 5, 5,
         5, 5, 5, 5, 5, 5, 6, 6, 6, 6, 6, 6,
         7, 7, 7, 7, 7, 7, 7, 7, 7, 7, 8, 8,
         8, 7, 7, 7, 7, 9, 9, 8, 7, 7, 7, 7,
         8, 8, 8, 8, 8, 8, 8, 8, 8, 8, 8, 8,
         7, 7, 7, 7, 7, 7, 7, 7, 7, 7, 7, 7,
         7]

# E18 / E14 orbit components only come in short bursts: burst hour + dm values
E18_hours = [0.5, 7.5, 14, 20.5, 27.5, 33.5, 40.5, 46.5, 52.5, 59.5, 65.5, 72, 78.5,
             85, 91.5, 97.5, 104, 110.5, 117, 123.5, 130, 136.5, 143, 149.5, 156, 162.5]
E18_R = [[8, 6], [-5, -6, -3], [3, 1], [5, 4], [-2, -6, -4], [2, 4, 1], [-2, -1], [1, 0],
         [-9, -7], [-4, -5, -3], [1, 0], [-1, 0], [3, 2], [4, 5], [-5, -3], [-2, -5, -4],
         [4, 3], [0, -1, 1], [-4, -3], [0, -1], [2, 1], [3, 2, 4], [3, 2], [3, 4], [0, 1], [-4, -3]]
E18_S = [[2], [-2, 4, -1], [-3, -1], [-1, 0], [-4, -2], [-3, -2], [1, 0], [3, 2],
         [-8, -6], [0, 1], [-6, -4], [5, 4], [1, 0], [5, 4], [4, 3], [-2, -3, -1],
         [-6, -5], [1, -1], [1, 2], [1, 2], [3, 2], [0, 1], [-3, -2], [-6, -5], [1, 0], [1, 2]]
E18_W = [[0, 2, 1], [0, -1, 1], [0, -1, 1], [0, 1], [-1, 0], [1, 2, 0], [1, 0, 2], [0, 1],
         [-1, 0], [0, -1, 1], [0, 1], [-2, -3, -1], [1, 2], [0, 1], [0, -1], [1, 2, 0],
         [0, 1], [0, 1], [-1, 0], [-1, 0], [0, 1], [-1, 0], [-1, 0], [0, 1], [-1, 0], [-1, 0]]

E14_hours = [1, 8, 14, 20.5, 27, 33.5, 40, 46.5, 52.5, 59.5, 65.5, 72.5, 79,
             86, 91, 98, 104, 111.5, 117.5, 124.5, 130, 136.5, 143, 150, 156, 162.5]
E14_R = [[-4, -7], [-5, -3], [2, 1], [-8, -5], [2, 0], [-7, -4], [-8, -5], [-2, -1],
         [-6, -8], [-2, 0], [1, 0], [1, 2], [-6, -4], [0, 1], [-6, -3], [1, -2],
         [-6, -3], [-2, -1], [-1, 0], [-1, -2], [1, 0], [-2, -1], [-8, -5], [-6, -4], [-1, 0], [1, 0]]
E14_S = [[-1, -2], [-3, -2], [1, 0], [-4, -2], [-3, -2], [-3, -1], [2, 1], [-1, 0],
         [-3, -2], [1, 0], [-3, -2], [-1, -3], [-4, -3], [-3, -2], [1, 0], [-1, 0],
         [0, -1], [1, 0], [-4, -5], [-1, 0], [-1, -2], [-3, -2], [0, -1], [-1, -2], [-6, -7], [-5, -4]]
E14_W = [[-1, 0, 6], [0, -1, 1], [-3, -2], [-3, -2], [-1, 0], [0, 1], [-2, -3], [0, 1],
         [0, -1], [-2, -5, -3], [0, 1], [-2, -4, -3], [1, 0], [-1, 0], [0, 1], [-2, -1],
         [2, 1], [0, -1], [1, 0], [0, -1], [0, 1], [1, 0], [-2, -1], [1, 0], [1, 0], [-3, -2]]

foc2_extra = [("E30", "S", 24, 4), ("E30", "S", 44.5, 8),
              ("E26", "S", 65, 5), ("E26", "S", 85, -5), ("E26", "S", 85.5, -9), ("E26", "S", 86, -12),
              ("E26", "S", 40, -7),
              ("E24", "S", 15, 6), ("E24", "S", 16, 8), ("E24", "S", 17, 7), ("E24", "S", 58, 5),
              ("E24", "S", 59, 6), ("E24", "S", 68, 4), ("E24", "S", 152, 6), ("E24", "S", 154, 7),
              ("E22", "S", 1, 7), ("E22", "S", 2, 8), ("E22", "S", 3, 5), ("E22", "S", 4.5, 6),
              ("E22", "S", 14, 5), ("E22", "S", 24, 5), ("E22", "S", 36, 5), ("E22", "S", 37, 4),
              ("E22", "S", 84, 5), ("E22", "S", 8, -10), ("E22", "S", 34, -7), ("E22", "S", 40, -6),
              ("E22", "S", 47, -7), ("E22", "S", 53, -7), ("E22", "S", 65, -7), ("E22", "S", 73, -12),
              ("E22", "S", 82, -6), ("E22", "S", 86, -7), ("E22", "S", 88, -5), ("E22", "S", 103.5, -9),
              ("E22", "R", 0.5, -8), ("E22", "R", 103, -5), ("E22", "R", 112, -7), ("E22", "R", 120, -5)]

# ---------------- drawing ----------------
W, H = 651, 1142
COL = {'R': (0, 0, 1), 'S': (1, 0, 0), 'W': (0, 1, 0), 'T': (0, 0, 0)}
DARK = '#262626'
MS = 3.6

fig = plt.figure(figsize=(W / 100, H / 100), dpi=100)


def rect(x0, y0, x1, y1):
    return [x0 / W, 1 - y1 / H, (x1 - x0) / W, (y1 - y0) / H]


def dots(ax, x, y, comp):
    ax.plot(x, y, ls='none', marker='o', ms=MS, mew=0, color=COL[comp])


def panel(box, names, series, extra, bursts=None):
    ax = fig.add_axes(rect(*box))
    row = {n: i + 1 for i, n in enumerate(names)}
    for n in names:
        for comp in 'RSW':
            vals = series.get((n, comp))
            if vals is None:
                continue
            assert len(vals) == len(hours), (n, comp, len(vals))
            dots(ax, hours, row[n] + np.array(vals, float) / DM_PER_ROW, comp)
        if bursts and n in bursts:
            hrs, comps = bursts[n]
            for comp, groups in comps.items():
                for h, g in zip(hrs, groups):
                    dots(ax, [h] * len(g), row[n] + np.array(g, float) / DM_PER_ROW, comp)
        # black T on top of the row
        t = series[(n, 'T')]
        assert len(t) == len(hours), (n, 'T', len(t))
        dots(ax, hours, row[n] + np.array(t, float) / DM_PER_ROW, 'T')
    for n, comp, h, v in extra:
        dots(ax, [h], [row[n] + v / DM_PER_ROW], comp)

    ax.set_xlim(0, 168)
    ax.set_xticks(range(0, 169, 12))
    ax.set_ylim(0.55, len(names) + 0.5)
    ax.set_yticks(range(1, len(names) + 1))
    ax.set_yticklabels(names)
    ax.grid(True, color='#dedede', lw=0.6)
    ax.set_axisbelow(True)
    ax.tick_params(direction='in', top=True, right=True, length=3.5, width=0.6,
                   colors=DARK, labelsize=10)
    ax.tick_params(axis='x', pad=7.5)
    ax.tick_params(axis='y', pad=4)
    for s in ax.spines.values():
        s.set_color(DARK)
        s.set_linewidth(0.6)
    ax.set_xlabel('Hours', fontsize=10, color=DARK, labelpad=0)
    return ax


def header(title, cx, y_title, y_sub):
    fig.text(cx / W, 1 - y_title / H, title, ha='center', va='center',
             fontsize=11.8, fontweight='bold', color='black')
    fig.add_artist(Line2D([268 / W, 268 / W], [1 - (y_sub - 6) / H, 1 - (y_sub + 6) / H],
                          transform=fig.transFigure, color='#404040', lw=0.9))
    for yy in (y_sub - 6, y_sub + 6):
        fig.add_artist(Line2D([266.5 / W, 269.5 / W], [1 - yy / H, 1 - yy / H],
                              transform=fig.transFigure, color='#404040', lw=0.8))
    fig.text(281 / W, 1 - y_sub / H, '= 0.5 m or 5.0 ns', ha='left', va='center',
             fontsize=8.8, color='black')


def legend_box(x0, y0, x1, y1, ix0, ix1):
    fig.add_artist(Rectangle((x0 / W, 1 - y1 / H), (x1 - x0) / W, (y1 - y0) / H,
                             transform=fig.transFigure, fill=False, ec='#555555', lw=0.8))
    handles = [Line2D([], [], ls='none', marker='o', ms=2.6, mew=0, color=COL[c]) for c in 'RSWT']
    labels = [r'$\delta$ R', r'$\delta$ S', r'$\delta$ W', r'$\delta$ T']
    yc = (y0 + y1) / 2 if y1 < H else y0 + 12
    fig.legend(handles, labels, loc='center', ncol=4, mode='expand', frameon=False,
               bbox_to_anchor=(ix0 / W, 1 - (yc + 8) / H, (ix1 - ix0) / W, 16 / H),
               handlelength=0.8, handletextpad=0.9, borderpad=0, borderaxespad=0,
               fontsize=9.5, labelcolor=DARK)


iov_names = ['E11', 'E12', 'E19']
iov_series = {}
for n, arrs in {'E19': (E19_T, E19_R, E19_S, E19_W), 'E12': (E12_T, E12_R, E12_S, E12_W),
                'E11': (E11_T, E11_R, E11_S, E11_W)}.items():
    for comp, a in zip('TRSW', arrs):
        iov_series[(n, comp)] = a

foc1_names = ['E01', 'E02', 'E03', 'E04', 'E05', 'E07', 'E08', 'E09']
foc1_series = {}
for n, arrs in {'E09': (E09_T, E09_R, E09_S, E09_W), 'E08': (E08_T, E08_R, E08_S, E08_W),
                'E07': (E07_T, E07_R, E07_S, E07_W), 'E05': (E05_T, E05_R, E05_S, E05_W),
                'E04': (E04_T, E04_R, E04_S, E04_W), 'E03': (E03_T, E03_R, E03_S, E03_W),
                'E02': (E02_T, E02_R, E02_S, E02_W), 'E01': (E01_T, E01_R, E01_S, E01_W)}.items():
    for comp, a in zip('TRSW', arrs):
        foc1_series[(n, comp)] = a

foc2_names = ['E14', 'E18', 'E22', 'E24', 'E26', 'E30']
foc2_series = {}
for n, arrs in {'E30': (E30_T, E30_R, E30_S, E30_W), 'E26': (E26_T, E26_R, E26_S, E26_W),
                'E24': (E24_T, E24_R, E24_S, E24_W), 'E22': (E22_T, E22_R, E22_S, E22_W)}.items():
    for comp, a in zip('TRSW', arrs):
        foc2_series[(n, comp)] = a
foc2_series[('E18', 'T')] = E18_T
foc2_series[('E14', 'T')] = E14_T
foc2_bursts = {'E18': (E18_hours, {'R': E18_R, 'S': E18_S, 'W': E18_W}),
               'E14': (E14_hours, {'R': E14_R, 'S': E14_S, 'W': E14_W})}

panel((47, 62, 639, 188), iov_names, iov_series, iov_extra)
panel((51, 341, 639, 673), foc1_names, foc1_series, foc1_extra)
panel((51, 809, 639, 1059), foc2_names, foc2_series, foc2_extra, foc2_bursts)

header('Comparison GAL-IOV BROADCAST-CODE: week 1950 - max5', 343, 20, 40)
header('Comparison GAL-FOC BROADCAST-CODE: week 1950 - max5', 345, 299, 318)
header('Comparison GAL-FOC BROADCAST-CODE: week 1950 - max5', 345, 768, 787)

legend_box(118, 262, 628, 284, 178, 577)
legend_box(143, 731, 605, 752, 185, 562)
legend_box(121, 1118, 627, 1150, 181, 578)

fig.savefig('out.png', dpi=100)
